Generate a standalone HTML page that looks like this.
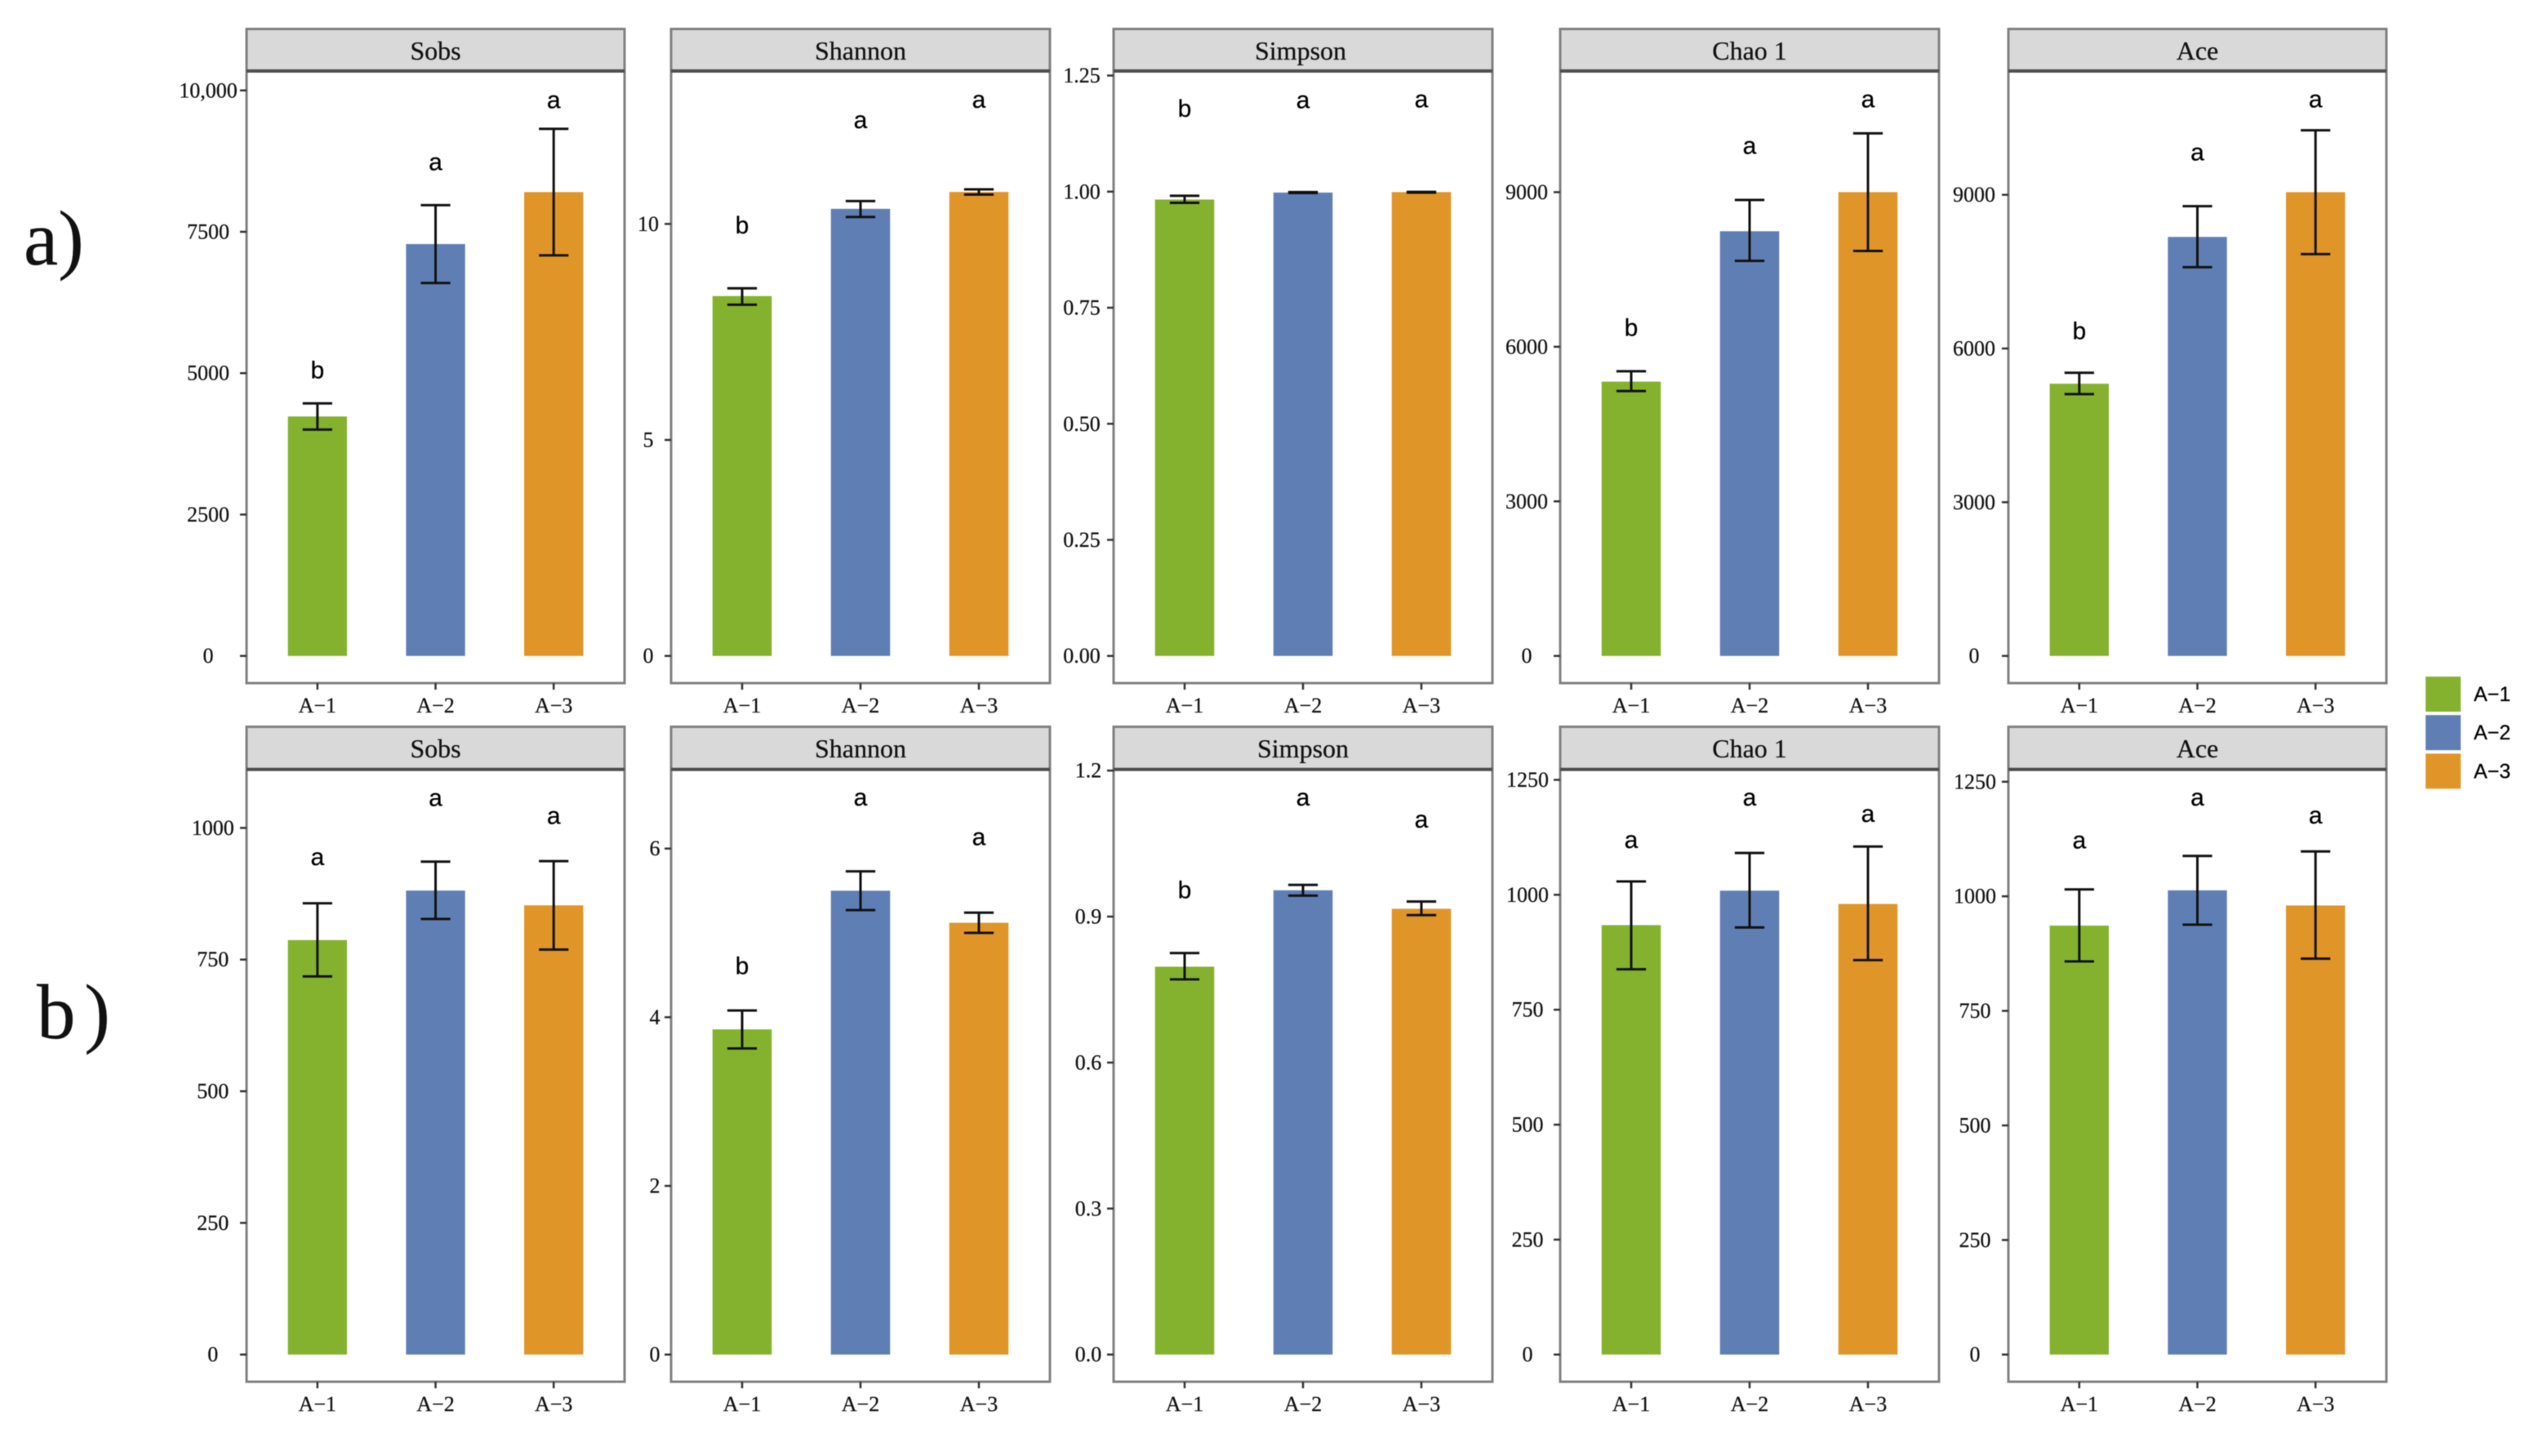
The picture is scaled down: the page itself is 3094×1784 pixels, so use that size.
<!DOCTYPE html>
<html lang="en">
<head>
<meta charset="utf-8">
<title>Alpha diversity bar charts</title>
<style>
  html, body { margin: 0; padding: 0; background: #ffffff; }
  #chart { display: block; width: 3094px; height: 1784px; background: #ffffff; filter: blur(0.6px); }
  .serif { font-family: "Liberation Serif", serif; fill: #111111; stroke: #111111; stroke-width: 0.25px; }
  .sans { font-family: "Liberation Sans", sans-serif; fill: #000000; stroke: #000000; stroke-width: 0.25px; }
</style>
</head>
<body>
<svg id="chart" xmlns="http://www.w3.org/2000/svg" width="3094" height="1784" viewBox="0 0 3094 1784">
  <text class="serif" x="29" y="324" font-size="95">a)</text>
  <text class="serif" x="45" y="1272" font-size="95" word-spacing="-13">b )</text>
</svg>
<script>
// Shared categories
const categories = ['A\u22121', 'A\u22122', 'A\u22123'];
const barColors = ['#84b22e', '#5f7fb4', '#e09528'];

// Row a — Sobs
const sobsATop = 10343;
const sobsATicks = [0, 2500, 5000, 7500, 10000];
const sobsATickLabels = ['0', '2500', '5000', '7500', '10,000'];
const sobsAMeans = [4234, 7283, 8202];
const sobsAUpper = [4466, 7970, 9321];
const sobsALower = [4002, 6595, 7084];
const sobsALetters = ['b', 'a', 'a'];
const sobsALetterAt = [4913, 8592, 9685];

// Row a — Shannon
const shannonATop = 13.54;
const shannonATicks = [0, 5, 10];
const shannonATickLabels = ['0', '5', '10'];
const shannonAMeans = [8.33, 10.35, 10.74];
const shannonAUpper = [8.51, 10.53, 10.80];
const shannonALower = [8.13, 10.16, 10.68];
const shannonALetters = ['b', 'a', 'a'];
const shannonALetterAt = [9.78, 12.22, 12.69];

// Row a — Simpson
const simpsonATop = 1.2598;
const simpsonATicks = [0, 0.25, 0.5, 0.75, 1, 1.25];
const simpsonATickLabels = ['0.00', '0.25', '0.50', '0.75', '1.00', '1.25'];
const simpsonAMeans = [0.983, 0.998, 0.999];
const simpsonAUpper = [0.991, 0.999, 0.9995];
const simpsonALower = [0.976, 0.997, 0.998];
const simpsonALetters = ['b', 'a', 'a'];
const simpsonALetterAt = [1.161, 1.18, 1.182];

// Row a — Chao 1
const chaoATop = 11351;
const chaoATicks = [0, 3000, 6000, 9000];
const chaoATickLabels = ['0', '3000', '6000', '9000'];
const chaoAMeans = [5323, 8242, 9000];
const chaoAUpper = [5525, 8848, 10141];
const chaoALower = [5141, 7667, 7859];
const chaoALetters = ['b', 'a', 'a'];
const chaoALetterAt = [6212, 9747, 10646];

// Row a — Ace
const aceATop = 11416;
const aceATicks = [0, 3000, 6000, 9000];
const aceATickLabels = ['0', '3000', '6000', '9000'];
const aceAMeans = [5313, 8178, 9051];
const aceAUpper = [5526, 8777, 10260];
const aceALower = [5110, 7588, 7842];
const aceALetters = ['b', 'a', 'a'];
const aceALetterAt = [6187, 9671, 10707];

// Row b — Sobs
const sobsBTop = 1111;
const sobsBTicks = [0, 250, 500, 750, 1000];
const sobsBTickLabels = ['0', '250', '500', '750', '1000'];
const sobsBMeans = [787, 881, 853];
const sobsBUpper = [857, 936, 937];
const sobsBLower = [718, 827, 769];
const sobsBLetters = ['a', 'a', 'a'];
const sobsBLetterAt = [929, 1042, 1008];

// Row b — Shannon
const shannonBTop = 6.938;
const shannonBTicks = [0, 2, 4, 6];
const shannonBTickLabels = ['0', '2', '4', '6'];
const shannonBMeans = [3.856, 5.50, 5.12];
const shannonBUpper = [4.08, 5.73, 5.24];
const shannonBLower = [3.63, 5.27, 5.00];
const shannonBLetters = ['b', 'a', 'a'];
const shannonBLetterAt = [4.51, 6.51, 6.04];

// Row b — Simpson
const simpsonBTop = 1.2023;
const simpsonBTicks = [0, 0.3, 0.6, 0.9, 1.2];
const simpsonBTickLabels = ['0.0', '0.3', '0.6', '0.9', '1.2'];
const simpsonBMeans = [0.797, 0.954, 0.916];
const simpsonBUpper = [0.825, 0.965, 0.931];
const simpsonBLower = [0.771, 0.943, 0.903];
const simpsonBLetters = ['b', 'a', 'a'];
const simpsonBLetterAt = [0.938, 1.128, 1.083];

// Row b — Chao 1
const chaoBTop = 1272.6;
const chaoBTicks = [0, 250, 500, 750, 1000, 1250];
const chaoBTickLabels = ['0', '250', '500', '750', '1000', '1250'];
const chaoBMeans = [934, 1009, 980];
const chaoBUpper = [1029, 1091, 1105];
const chaoBLower = [838, 929, 858];
const chaoBLetters = ['a', 'a', 'a'];
const chaoBLetterAt = [1102, 1194, 1159];

// Row b — Ace
const aceBTop = 1276.8;
const aceBTicks = [0, 250, 500, 750, 1000, 1250];
const aceBTickLabels = ['0', '250', '500', '750', '1000', '1250'];
const aceBMeans = [936, 1013, 980];
const aceBUpper = [1015, 1088, 1098];
const aceBLower = [858, 938, 864];
const aceBLetters = ['a', 'a', 'a'];
const aceBLetterAt = [1105, 1198, 1159];

const svg = document.getElementById('chart');
const NS = 'http://www.w3.org/2000/svg';

function mk(tag, attrs, parent, txt) {
  const el = document.createElementNS(NS, tag);
  for (const k in attrs) el.setAttribute(k, attrs[k]);
  if (txt !== undefined) el.textContent = txt;
  parent.appendChild(el);
  return el;
}

function drawPanel(p) {
  const plotH = p.bottom - p.plotTop;
  const zeroGap = 33.3;
  const yScale = v => (p.bottom - zeroGap) - (v / p.axisTop) * (plotH - zeroGap);
  const xScale = i => p.left + ((i + 0.6) / 3.2) * p.width;
  const unit = p.width / 3.2;

  const g = mk('g', {}, svg);
  
  

  const strip = mk('rect', { x: p.left, y: p.stripTop, width: p.width, height: p.plotTop - p.stripTop, fill: '#d9d9d9', stroke: '#808080', 'stroke-width': 3 }, g);
  
  

  const title = mk('text', { x: p.left + p.width / 2 + (p.titleDx || 0), y: p.stripTop + 37.5, 'text-anchor': 'middle', 'font-size': 32, class: 'serif' }, g, p.title);
  
  

  const frame = mk('rect', { x: p.left, y: p.plotTop, width: p.width, height: plotH, fill: '#ffffff', stroke: '#808080', 'stroke-width': 3 }, g);
  
  

  const stripRule = mk('line', { x1: p.left, x2: p.left + p.width, y1: p.plotTop, y2: p.plotTop, stroke: '#4d4d4d', 'stroke-width': 4 }, g);
  
  

  p.ticks.forEach((t, i) => {
    const y = yScale(t);
    const tick = mk('line', { x1: p.left - 8, x2: p.left, y1: y, y2: y, stroke: '#333333', 'stroke-width': 2.5 }, g);
    
    
    const label = mk('text', { x: p.labelX, y: y + 8.5, 'text-anchor': 'middle', 'font-size': 26, class: 'serif' }, g, p.tickLabels[i]);
    
    
  });

  categories.forEach((c, i) => {
    const cx = xScale(i);
    const bw = unit * 0.5;
    const capW = unit * 0.25;

    const tick = mk('line', { x1: cx, x2: cx, y1: p.bottom, y2: p.bottom + 8, stroke: '#333333', 'stroke-width': 2.5 }, g);
    
    

    const xLabel = mk('text', { x: cx, y: p.bottom + 36, 'text-anchor': 'middle', 'font-size': 26, class: 'serif' }, g, c);
    
    

    const topY = yScale(p.means[i]);
    const bar = mk('rect', { x: cx - bw / 2, y: topY, width: bw, height: yScale(0) - topY, fill: barColors[i] }, g);
    
    

    const stem = mk('line', { x1: cx, x2: cx, y1: yScale(p.upper[i]), y2: yScale(p.lower[i]), stroke: '#111111', 'stroke-width': 3 }, g);
    
    

    const capTop = mk('line', { x1: cx - capW / 2, x2: cx + capW / 2, y1: yScale(p.upper[i]), y2: yScale(p.upper[i]), stroke: '#111111', 'stroke-width': 3 }, g);
    
    

    const capLow = mk('line', { x1: cx - capW / 2, x2: cx + capW / 2, y1: yScale(p.lower[i]), y2: yScale(p.lower[i]), stroke: '#111111', 'stroke-width': 3 }, g);
    
    

    const letter = mk('text', { x: cx, y: yScale(p.letterAt[i]), 'text-anchor': 'middle', 'font-size': 30, class: 'sans' }, g, p.letters[i]);
    
    
  });
}

const rowAGeom = { stripTop: 35.5, plotTop: 87, bottom: 837 };
const rowBGeom = { stripTop: 890.5, plotTop: 942.8, bottom: 1693 };

drawPanel({ ...rowAGeom, title: 'Sobs', left: 302, width: 463, labelX: 255, axisTop: sobsATop, ticks: sobsATicks, tickLabels: sobsATickLabels, means: sobsAMeans, upper: sobsAUpper, lower: sobsALower, letters: sobsALetters, letterAt: sobsALetterAt });
drawPanel({ ...rowAGeom, title: 'Shannon', left: 822, width: 464, labelX: 794, axisTop: shannonATop, ticks: shannonATicks, tickLabels: shannonATickLabels, means: shannonAMeans, upper: shannonAUpper, lower: shannonALower, letters: shannonALetters, letterAt: shannonALetterAt });
drawPanel({ ...rowAGeom, title: 'Simpson', titleDx: -3, left: 1364, width: 464, labelX: 1325, axisTop: simpsonATop, ticks: simpsonATicks, tickLabels: simpsonATickLabels, means: simpsonAMeans, upper: simpsonAUpper, lower: simpsonALower, letters: simpsonALetters, letterAt: simpsonALetterAt });
drawPanel({ ...rowAGeom, title: 'Chao 1', left: 1911, width: 464, labelX: 1870, axisTop: chaoATop, ticks: chaoATicks, tickLabels: chaoATickLabels, means: chaoAMeans, upper: chaoAUpper, lower: chaoALower, letters: chaoALetters, letterAt: chaoALetterAt });
drawPanel({ ...rowAGeom, title: 'Ace', left: 2460, width: 463, labelX: 2418, axisTop: aceATop, ticks: aceATicks, tickLabels: aceATickLabels, means: aceAMeans, upper: aceAUpper, lower: aceALower, letters: aceALetters, letterAt: aceALetterAt });

drawPanel({ ...rowBGeom, title: 'Sobs', left: 302, width: 463, labelX: 260.7, axisTop: sobsBTop, ticks: sobsBTicks, tickLabels: sobsBTickLabels, means: sobsBMeans, upper: sobsBUpper, lower: sobsBLower, letters: sobsBLetters, letterAt: sobsBLetterAt });
drawPanel({ ...rowBGeom, title: 'Shannon', left: 822, width: 464, labelX: 802, axisTop: shannonBTop, ticks: shannonBTicks, tickLabels: shannonBTickLabels, means: shannonBMeans, upper: shannonBUpper, lower: shannonBLower, letters: shannonBLetters, letterAt: shannonBLetterAt });
drawPanel({ ...rowBGeom, title: 'Simpson', left: 1364, width: 464, labelX: 1333, axisTop: simpsonBTop, ticks: simpsonBTicks, tickLabels: simpsonBTickLabels, means: simpsonBMeans, upper: simpsonBUpper, lower: simpsonBLower, letters: simpsonBLetters, letterAt: simpsonBLetterAt });
drawPanel({ ...rowBGeom, title: 'Chao 1', left: 1911, width: 464, labelX: 1871, axisTop: chaoBTop, ticks: chaoBTicks, tickLabels: chaoBTickLabels, means: chaoBMeans, upper: chaoBUpper, lower: chaoBLower, letters: chaoBLetters, letterAt: chaoBLetterAt });
drawPanel({ ...rowBGeom, title: 'Ace', left: 2460, width: 463, labelX: 2419, axisTop: aceBTop, ticks: aceBTicks, tickLabels: aceBTickLabels, means: aceBMeans, upper: aceBUpper, lower: aceBLower, letters: aceBLetters, letterAt: aceBLetterAt });

// Legend
const legend = mk('g', {}, svg);


categories.forEach((c, i) => {
  const top = 829 + i * 47.2;
  const swatch = mk('rect', { x: 2971, y: top, width: 43, height: 43, fill: barColors[i] }, legend);
  
  
  const label = mk('text', { x: 3030, y: top + 30, 'font-size': 25, class: 'sans' }, legend, c);
  
  
});
</script>
</body>
</html>
